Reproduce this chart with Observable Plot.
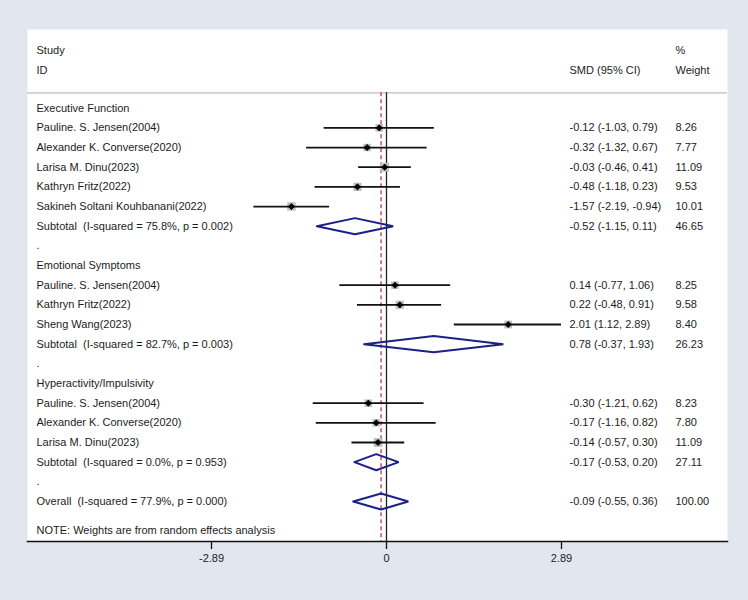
<!DOCTYPE html>
<html>
<head>
<meta charset="utf-8">
<script src="https://cdn.jsdelivr.net/npm/d3@7"></script>
<script src="https://cdn.jsdelivr.net/npm/@observablehq/plot@0.6"></script>
<style>
  html, body { margin: 0; padding: 0; background: #e1e6ef; }
  #chart svg { display: block; }
</style>
</head>
<body>
<div id="chart"></div>
<script>
// ---------- data ----------
const groups = ["Executive Function", "Emotional Symptoms", "Hyperactivity/Impulsivity"];
const studyNames = [
  ["Pauline. S. Jensen(2004)", "Alexander K. Converse(2020)", "Larisa M. Dinu(2023)", "Kathryn Fritz(2022)", "Sakineh Soltani Kouhbanani(2022)"],
  ["Pauline. S. Jensen(2004)", "Kathryn Fritz(2022)", "Sheng Wang(2023)"],
  ["Pauline. S. Jensen(2004)", "Alexander K. Converse(2020)", "Larisa M. Dinu(2023)"]
];
const studyEst = [[-0.12, -0.32, -0.03, -0.48, -1.57], [0.14, 0.22, 2.01], [-0.30, -0.17, -0.14]];
const studyLo  = [[-1.03, -1.32, -0.46, -1.18, -2.19], [-0.77, -0.48, 1.12], [-1.21, -1.16, -0.57]];
const studyHi  = [[0.79, 0.67, 0.41, 0.23, -0.94], [1.06, 0.91, 2.89], [0.62, 0.82, 0.30]];
const studyWeight = [[8.26, 7.77, 11.09, 9.53, 10.01], [8.25, 9.58, 8.40], [8.23, 7.80, 11.09]];

const subI2 = ["75.8%", "82.7%", "0.0%"];
const subP = ["0.002", "0.003", "0.953"];
const subEst = [-0.52, 0.78, -0.17];
const subLo = [-1.15, -0.37, -0.53];
const subHi = [0.11, 1.93, 0.20];
const subWeight = [46.65, 26.23, 27.11];

const overallI2 = "77.9%";
const overallP = "0.000";
const overallEst = -0.09;
const overallLo = -0.55;
const overallHi = 0.36;
const overallWeight = 100.00;

const xTicks = [-2.89, 0, 2.89];
const noteText = "NOTE: Weights are from random effects analysis";

// ---------- build rows ----------
const fmt = v => v.toFixed(2);
const rows = [];
let r = 0;
groups.forEach((g, gi) => {
  rows.push({row: r++, label: g, type: "group"});
  studyNames[gi].forEach((n, si) => {
    rows.push({row: r++, label: n, type: "study",
      est: studyEst[gi][si], lo: studyLo[gi][si], hi: studyHi[gi][si], w: studyWeight[gi][si]});
  });
  rows.push({row: r++, label: `Subtotal\u00a0 (I-squared = ${subI2[gi]}, p = ${subP[gi]})`, type: "pooled",
    est: subEst[gi], lo: subLo[gi], hi: subHi[gi], w: subWeight[gi]});
  rows.push({row: r++, label: ".", type: "spacer"});
});
rows.push({row: r++, label: `Overall\u00a0 (I-squared = ${overallI2}, p = ${overallP})`, type: "pooled",
  est: overallEst, lo: overallLo, hi: overallHi, w: overallWeight});
const lastRow = r - 1;
const noteRow = lastRow + 1.48;
const sepRow = -0.78;
const bottomRow = lastRow + 2.03;
const headTop = -2.95, headBot = -1.93;

const studies = rows.filter(d => d.type === "study");
const pooled = rows.filter(d => d.type === "pooled");
const valued = rows.filter(d => d.est !== undefined);
const half = 0.41;
const diamondPts = pooled.flatMap((d, i) => [
  {k: i, x: d.lo, y: d.row}, {k: i, x: d.est, y: d.row - half},
  {k: i, x: d.hi, y: d.row}, {k: i, x: d.est, y: d.row + half}, {k: i, x: d.lo, y: d.row}
]);

const txt = "#1c1c1c";
const fs = 11;

const chart = Plot.plot({
  width: 748,
  height: 600,
  marginTop: 29,
  marginBottom: 59,
  marginLeft: 27,
  marginRight: 21,
  style: {fontFamily: "'Liberation Sans', Arial, Helvetica, sans-serif", fontSize: "11px", background: "#e1e6ef", color: txt},
  x: {domain: [-2.89, 2.89], range: [211, 561]},
  y: {domain: [0, lastRow], range: [107.7, 501], axis: null},
  r: {type: "sqrt", domain: [0, 11.09], range: [0, 5.0]},
  marks: [
    Plot.frame({fill: "white", stroke: null}),
    Plot.ruleY([sepRow], {stroke: "#cfcfcf", strokeWidth: 1.6}),
    Plot.ruleX([0], {y1: sepRow, y2: bottomRow, stroke: "#222", strokeWidth: 1.3}),
    Plot.ruleX([overallEst], {y1: sepRow, y2: bottomRow, stroke: "#b0283a", strokeWidth: 1.2, strokeDasharray: "4,3"}),
    Plot.dot(studies, {x: "est", y: "row", r: "w", symbol: "square", fill: "#bfbfbf", stroke: null}),
    Plot.ruleY(studies, {y: "row", x1: "lo", x2: "hi", stroke: "#111", strokeWidth: 1.8}),
    Plot.dot(studies, {x: "est", y: "row", r: 2.8, symbol: "diamond2", fill: "#000", stroke: "#000", strokeWidth: 0.8}),
    Plot.line(diamondPts, {x: "x", y: "y", z: "k", stroke: "#1a2088", strokeWidth: 2, strokeLinejoin: "miter", curve: "linear"}),
    // left column labels
    Plot.text(rows, {y: "row", text: "label", frameAnchor: "left", dx: 9, textAnchor: "start", fontSize: fs, fill: txt}),
    Plot.text([noteText], {y: noteRow, text: d => d, frameAnchor: "left", dx: 9, textAnchor: "start", fontSize: fs, fill: txt}),
    // headers
    Plot.text(["Study"], {y: headTop, text: d => d, frameAnchor: "left", dx: 9, textAnchor: "start", fontSize: fs, fill: txt}),
    Plot.text(["ID"], {y: headBot, text: d => d, frameAnchor: "left", dx: 9, textAnchor: "start", fontSize: fs, fill: txt}),
    Plot.text(["SMD (95% CI)"], {y: headBot, text: d => d, frameAnchor: "right", dx: -158, textAnchor: "start", fontSize: fs, fill: txt}),
    Plot.text(["%"], {y: headTop, text: d => d, frameAnchor: "right", dx: -52, textAnchor: "start", fontSize: fs, fill: txt}),
    Plot.text(["Weight"], {y: headBot, text: d => d, frameAnchor: "right", dx: -52, textAnchor: "start", fontSize: fs, fill: txt}),
    // right columns
    Plot.text(valued, {y: "row", text: d => `${fmt(d.est)} (${fmt(d.lo)}, ${fmt(d.hi)})`, frameAnchor: "right", dx: -158, textAnchor: "start", fontSize: fs, fill: txt}),
    Plot.text(valued, {y: "row", text: d => fmt(d.w), frameAnchor: "right", dx: -52, textAnchor: "start", fontSize: fs, fill: txt}),
    // axis
    Plot.frame({anchor: "bottom", stroke: "#111", strokeWidth: 1.5}),
    Plot.axisX(xTicks, {anchor: "bottom", tickSize: 8, tickPadding: 5, tickFormat: d => String(d), fontSize: fs, label: null, stroke: "#111", strokeWidth: 1.3, fill: txt})
  ]
});
document.getElementById("chart").appendChild(chart);
</script>
</body>
</html>
